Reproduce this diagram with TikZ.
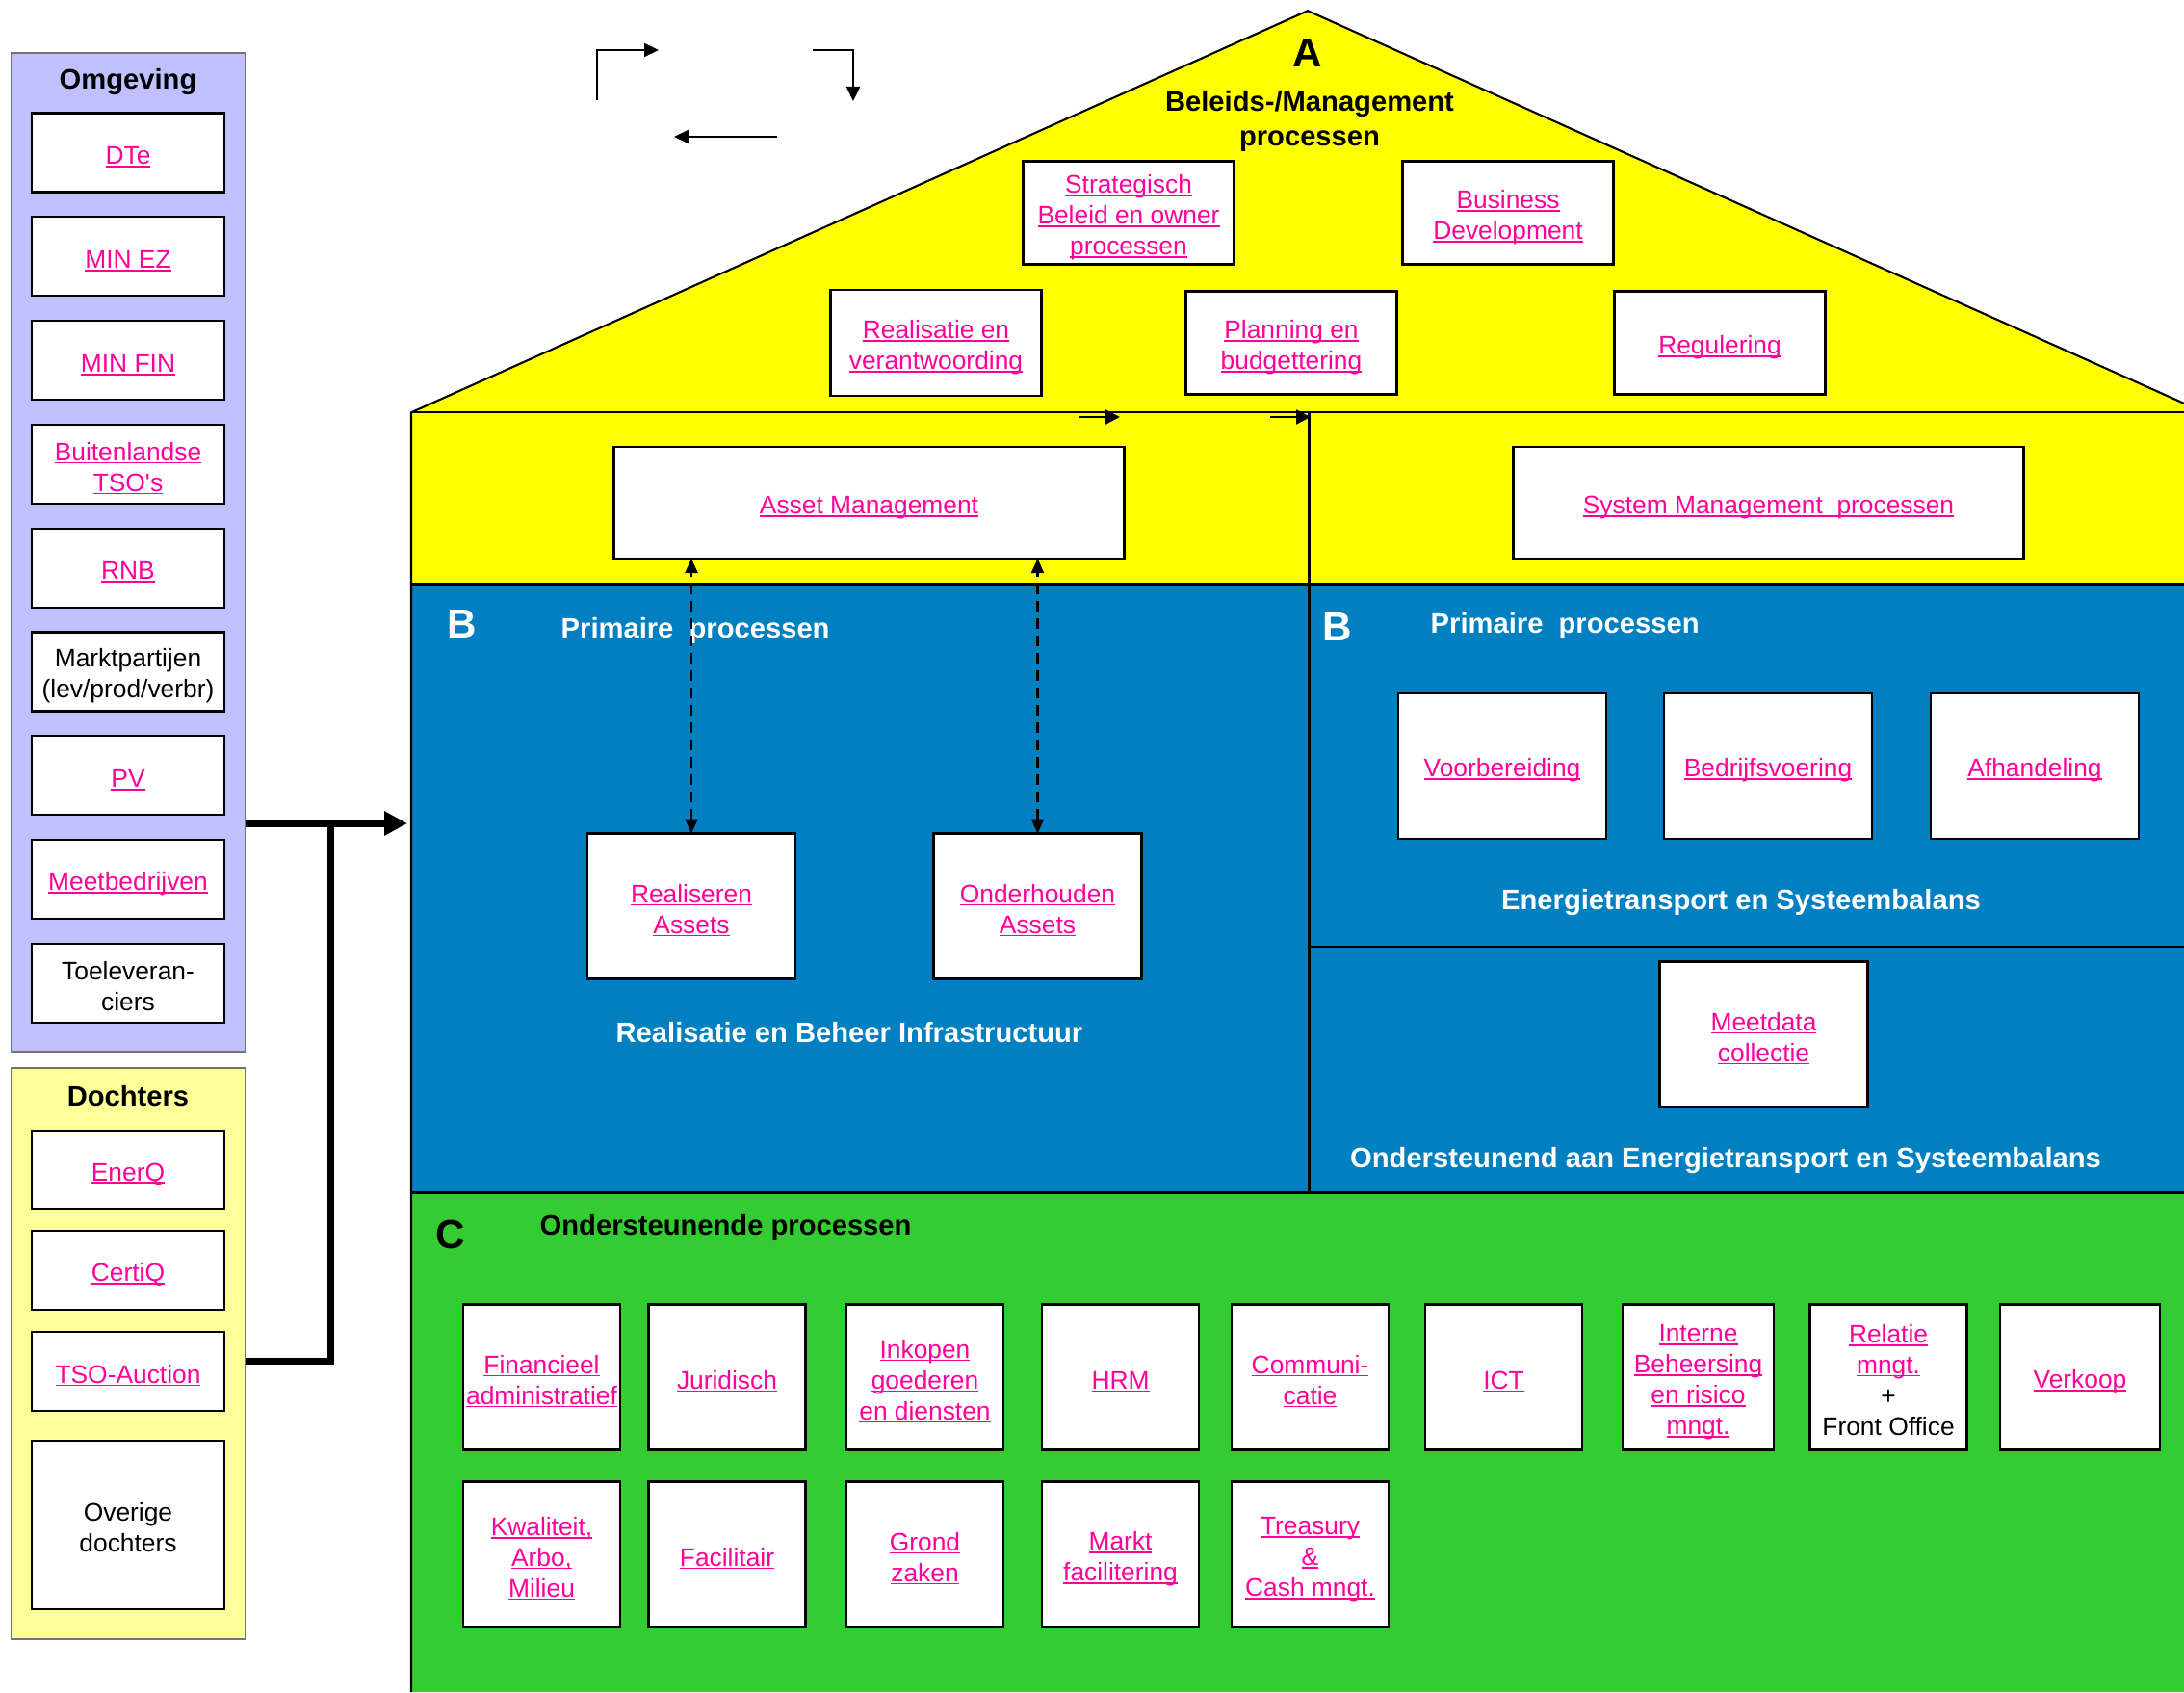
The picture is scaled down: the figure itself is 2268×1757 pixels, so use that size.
\documentclass[tikz,border=0pt]{standalone}
\usepackage{fontspec}
\setmainfont{Liberation Sans}
\usetikzlibrary{positioning, arrows.meta, fit}
\definecolor{TTpink}{RGB}{255,0,153}
\definecolor{TTyellow}{RGB}{255,255,0}
\definecolor{TTblue}{RGB}{0,128,192}
\definecolor{TTgreen}{RGB}{51,204,51}
\definecolor{TTlavender}{RGB}{192,192,255}
\definecolor{TTcream}{RGB}{255,255,153}
% underlined link text, and a centred stack of lines with fixed line boxes
\newcommand{\lnk}[1]{\leavevmode\setbox0=\hbox{#1}\rlap{\rule[-0.12em]{\wd0}{0.07em}}\box0}
\newcommand{\bx}[1]{\vbox{\let\\\cr\halign{\hfil##\hfil\cr\rule{0pt}{8.05pt}#1\rule[-1.05pt]{0pt}{1.05pt}\cr}}}
\newcommand{\boxfont}{\fontsize{7.5}{9.1}\selectfont}
\newcommand{\headfont}{\fontsize{8.3}{10.2}\selectfont\bfseries}
\newcommand{\letterfont}{\fontsize{12}{14}\selectfont\bfseries}
\tikzset{
  box/.style={rectangle, draw=black, line width=0.6pt, fill=white,
    inner sep=1pt, outer sep=0pt, font=\boxfont, text=TTpink},
  omgbox/.style={box, minimum width=20mm, minimum height=8.2mm},
  roofbox/.style={box, minimum width=21.9mm, minimum height=10.7mm},
  widebox/.style={box, minimum width=53mm, minimum height=11.6mm},
  bluebox/.style={box, minimum width=21.6mm, minimum height=15.1mm},
  procbox/.style={box, minimum width=16.3mm, minimum height=15.1mm},
  panel/.style={rectangle, draw=black!55, line width=0.4pt, inner sep=0pt, outer sep=0pt},
  head/.style={font=\headfont, align=center, inner sep=0pt},
  letter/.style={font=\letterfont},
  wall/.style={line width=0.6pt, black},
  feed/.style={-{Triangle[length=2.4mm, width=2.4mm]}, line width=0.7mm},
  bus/.style={line width=0.7mm},
  cycarrow/.style={-{Triangle[length=1.5mm, width=1.4mm]}, line width=0.65pt},
  tinyarrow/.style={-{Triangle[length=1.5mm, width=1.5mm]}, line width=0.65pt},
  dflow/.style={{Triangle[length=1.5mm, width=1.3mm]}-{Triangle[length=1.5mm, width=1.3mm]},
    line width=0.6pt, dash pattern=on 1.1mm off 0.7mm},
}

\begin{document}
\begin{tikzpicture}[x=0.1mm, y=-0.1mm]
    \useasboundingbox (0,0) rectangle (2268,1757);
    % house
    \fill[TTgreen] (427,1238.5) rectangle (2268,1757);
    \fill[TTblue] (427,606.5) rectangle (2268,1238.5);
    \fill[TTyellow] (427,428.3) rectangle (2268,606.5);
    \fill[TTyellow] (427,428.3) -- (1358,11.2) -- (2289,428.3) -- cycle;
    \draw[wall] (427,1757) -- (427,428.3) -- (1358,11.2) -- (2289,428.3);
    \draw[wall] (427,428.3) -- (2268,428.3);
    \draw[wall] (427,606.5) -- (2268,606.5);
    \draw[wall, line width=0.8pt] (427,1238.5) -- (2268,1238.5);
    \draw[wall] (1359.5,428.3) -- (1359.5,1238.5);
    \draw[wall] (1359.5,983) -- (2268,983);
    % cycle arrows
    \coordinate (cyc1) at (620,104); \coordinate (cyc1e) at (684,52);
    \coordinate (cyc2) at (844,52); \coordinate (cyc2e) at (886,105);
    \coordinate (cyc3) at (807,142); \coordinate (cyc3e) at (700,142);
    \draw[cycarrow] (cyc1) |- (cyc1e);
    \draw[cycarrow] (cyc2) -| (cyc2e);
    \draw[cycarrow] (cyc3) -- (cyc3e);
    \coordinate (tl1) at (1121,433); \coordinate (tl1e) at (1163,433);
    \coordinate (tl2) at (1319,433); \coordinate (tl2e) at (1361,433);
    \draw[tinyarrow] (tl1) -- (tl1e);
    \draw[tinyarrow] (tl2) -- (tl2e);
    % A: management
    \node[letter] (lblA) at (1358,55) {A};
    \node[head] (lblmgmt) at (1360,126) {Beleids-/Management\\processen};
    \node[roofbox] (strat) at (1172,221) {\bx{\lnk{Strategisch}\\\lnk{Beleid en owner}\\\lnk{processen}}};
    \node[roofbox] (busdev) at (1566,221) {\bx{\lnk{Business}\\\lnk{Development}}};
    \node[roofbox, minimum height=11mm] (realver) at (972,356) {\bx{\lnk{Realisatie en}\\\lnk{verantwoording}}};
    \node[roofbox] (planbud) at (1341,356) {\bx{\lnk{Planning en}\\\lnk{budgettering}}};
    \node[roofbox] (regul) at (1786,356) {\bx{\lnk{Regulering}}};
    \node[widebox] (asset) at (902.5,522) {\bx{\lnk{Asset Management}}};
    \node[widebox] (sysman) at (1836.5,522) {\bx{\lnk{System Management\ \ processen}}};
    % B: primair
    \node[letter, text=white] (lblB1) at (480,648) {B};
    \node[head, text=white, anchor=west] (prim1) at (582,655) {Primaire\ \ processen};
    \node[bluebox] (real) at (718,941) {\bx{\lnk{Realiseren}\\\lnk{Assets}}};
    \node[bluebox] (onder) at (1077.5,941) {\bx{\lnk{Onderhouden}\\\lnk{Assets}}};
    \node[head, text=white] (lblinfra) at (882,1072) {Realisatie en Beheer Infrastructuur};
    \draw[dflow] (real.north) -- (real.north |- asset.south);
    \draw[dflow] (onder.north) -- (onder.north |- asset.south);
    \node[letter, text=white] (lblB2) at (1388.5,651) {B};
    \node[head, text=white, anchor=west] (prim2) at (1485,650) {Primaire\ \ processen};
    \node[bluebox] (voorb) at (1560,795.5) {\bx{\lnk{Voorbereiding}}};
    \node[bluebox] (bedr) at (1836,795.5) {\bx{\lnk{Bedrijfsvoering}}};
    \node[bluebox] (afh) at (2113,795.5) {\bx{\lnk{Afhandeling}}};
    \node[head, text=white] (lblets) at (1808,937) {Energietransport en Systeembalans};
    \node[bluebox] (meetd) at (1831.5,1074) {\bx{\lnk{Meetdata}\\\lnk{collectie}}};
    \node[head, text=white] (lblond) at (1792,1205) {Ondersteunend aan Energietransport en Systeembalans};
    % C: ondersteunend
    \node[letter] (lblC) at (468,1282) {C};
    \node[head, anchor=west] (lblsup) at (560,1275) {Ondersteunende processen};
    \node[procbox] (fin) at (562.5,1430) {\bx{\lnk{Financieel}\\\lnk{administratief}}};
    \node[procbox] (jur) at (755,1430) {\bx{\lnk{Juridisch}}};
    \node[procbox] (ink) at (960.5,1430) {\bx{\lnk{Inkopen}\\\lnk{goederen}\\\lnk{en diensten}}};
    \node[procbox] (hrm) at (1163.5,1430) {\bx{\lnk{HRM}}};
    \node[procbox] (com) at (1360.5,1430) {\bx{\lnk{Communi-}\\\lnk{catie}}};
    \node[procbox] (ict) at (1561.5,1430) {\bx{\lnk{ICT}}};
    \node[procbox, minimum width=15.7mm] (intb) at (1763.5,1430) {\bx{\lnk{Interne}\\\lnk{Beheersing}\\\lnk{en risico}\\\lnk{mngt.}}};
    \node[procbox] (rel) at (1961,1430) {\bx{\lnk{Relatie}\\\lnk{mngt.}\\{\color{black}+}\\{\color{black}Front Office}}};
    \node[procbox, minimum width=16.6mm] (verk) at (2160,1430) {\bx{\lnk{Verkoop}}};
    \node[procbox, below=3.3mm of fin] (kwal) {\bx{\lnk{Kwaliteit,}\\\lnk{Arbo,}\\\lnk{Milieu}}};
    \node[procbox, below=3.3mm of jur] (fac) {\bx{\lnk{Facilitair}}};
    \node[procbox, below=3.3mm of ink] (grond) {\bx{\lnk{Grond}\\\lnk{zaken}}};
    \node[procbox, below=3.3mm of hrm] (mfac) {\bx{\lnk{Markt}\\\lnk{facilitering}}};
    \node[procbox, below=3.3mm of com] (treas) {\bx{\lnk{Treasury}\\\lnk{\&}\\\lnk{Cash mngt.}}};
    % omgeving
    \node[panel, fill=TTlavender, fit={(11.6,55) (254.6,1092)}] (omg) {};
    \node[head] (lblomg) at (133,85) {Omgeving};
    \node[omgbox] (dte) at (133,158.5) {\bx{\lnk{DTe}}};
    \node[omgbox, below=2.58mm of dte] (minez) {\bx{\lnk{MIN EZ}}};
    \node[omgbox, below=2.58mm of minez] (minfin) {\bx{\lnk{MIN FIN}}};
    \node[omgbox, below=2.58mm of minfin] (btso) {\bx{\lnk{Buitenlandse}\\\lnk{TSO\textquotesingle s}}};
    \node[omgbox, below=2.58mm of btso] (rnb) {\bx{\lnk{RNB}}};
    \node[omgbox, below=2.58mm of rnb, text=black] (markt) {\bx{Marktpartijen\\(lev/prod/verbr)}};
    \node[omgbox, below=2.58mm of markt] (pv) {\bx{\lnk{PV}}};
    \node[omgbox, below=2.58mm of pv] (meetb) {\bx{\lnk{Meetbedrijven}}};
    \node[omgbox, below=2.58mm of meetb, text=black] (toel) {\bx{Toeleveran-\\ciers}};
    % dochters
    \node[panel, fill=TTcream, fit={(11.6,1109) (254.6,1702)}] (doch) {};
    \node[head] (lbldoch) at (133,1138) {Dochters};
    \node[omgbox, minimum height=8.1mm] (enerq) at (133,1214.5) {\bx{\lnk{EnerQ}}};
    \node[omgbox, below=2.3mm of enerq] (certiq) {\bx{\lnk{CertiQ}}};
    \node[omgbox, below=2.3mm of certiq] (tsoa) {\bx{\lnk{TSO-Auction}}};
    \node[omgbox, below=3.1mm of tsoa, minimum height=17.5mm, text=black] (overig) {\bx{Overige\\dochters}};
    % links to the house
    \coordinate (hub) at (343,855);
    \coordinate (tap) at (343,1413);
    \coordinate (entry) at (423,855);
    \draw[feed] (omg.east |- hub) -- (entry);
    \draw[bus] (doch.east |- tap) -- (tap) -- (hub);
\end{tikzpicture}
\end{document}
